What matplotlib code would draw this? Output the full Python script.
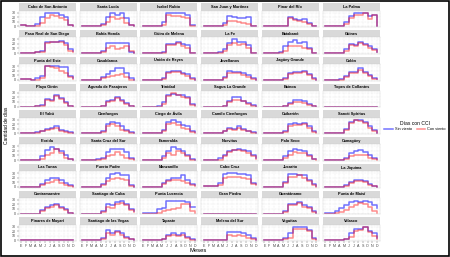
import matplotlib
matplotlib.use('Agg')
import matplotlib.pyplot as plt
from matplotlib.patches import Rectangle
from matplotlib.lines import Line2D

plt.rcParams['font.family'] = ['Liberation Sans', 'DejaVu Sans']

meses = ['E', 'F', 'M', 'A', 'M', 'J', 'J', 'A', 'S', 'O', 'N', 'D']
mes_num = list(range(1, 13))

estaciones = [
    'Cabo de San Antonio', 'Santa Lucía', 'Isabel Rubio', 'San Juan y Martínez', 'Pinar del Río', 'La Palma',
    'Paso Real de San Diego', 'Bahía Honda', 'Güira de Melena', 'La Fe', 'Batabanó', 'Güines',
    'Punta del Este', 'Casablanca', 'Unión de Reyes', 'Jovellanos', 'Jagüey Grande', 'Colón',
    'Playa Girón', 'Aguada de Pasajeros', 'Trinidad', 'Sagua La Grande', 'Bainoa', 'Topes de Collantes',
    'El Yabú', 'Cienfuegos', 'Ciego de Ávila', 'Camilo Cienfuegos', 'Caibarién', 'Sancti Spíritus',
    'Florida', 'Santa Cruz del Sur', 'Esmeralda', 'Nuevitas', 'Palo Seco', 'Camagüey',
    'Las Tunas', 'Puerto Padre', 'Manzanillo', 'Cabo Cruz', 'Jucarito', 'La Jiquima',
    'Contramaestre', 'Santiago de Cuba', 'Punta Lucrecia', 'Gran Piedra', 'Guantánamo', 'Punta de Maisí',
    'Pinares de Mayarí', 'Santiago de las Vegas', 'Tapaste', 'Melena del Sur', 'Veguitas', 'Velasco',
]

# dias con CCI por mes (E..D)
sin_viento = [
    [2, 0, 0, 5, 20, 30, 30, 30, 25, 20, 2, 1],
    [0, 0, 0, 1, 5, 20, 28, 25, 28, 18, 2, 0],
    [0, 0, 0, 1, 10, 30, 29, 28, 28, 25, 3, 2],
    [0, 0, 0, 1, 8, 22, 20, 18, 18, 20, 0, 0],
    [0, 0, 0, 0, 1, 20, 15, 13, 15, 8, 0, 0],
    [0, 0, 0, 1, 10, 22, 28, 28, 30, 22, 25, 1],
    [0, 0, 0, 3, 5, 25, 25, 25, 27, 22, 8, 5],
    [0, 0, 0, 0, 5, 22, 22, 22, 22, 22, 2, 0],
    [0, 0, 0, 0, 3, 20, 20, 25, 20, 18, 0, 0],
    [0, 0, 0, 3, 8, 22, 30, 25, 25, 18, 0, 0],
    [0, 0, 0, 2, 15, 25, 28, 22, 25, 12, 0, 0],
    [0, 0, 0, 0, 8, 20, 18, 25, 20, 15, 8, 3],
    [2, 2, 0, 3, 8, 30, 30, 30, 28, 28, 8, 3],
    [0, 0, 0, 0, 5, 12, 20, 25, 25, 15, 3, 0],
    [0, 0, 0, 0, 3, 18, 20, 20, 15, 12, 3, 0],
    [0, 0, 0, 0, 5, 20, 18, 18, 15, 10, 3, 0],
    [0, 0, 0, 0, 3, 15, 18, 18, 20, 12, 3, 0],
    [0, 0, 0, 2, 8, 18, 18, 25, 18, 10, 3, 2],
    [0, 0, 0, 2, 3, 16, 15, 25, 18, 10, 2, 0],
    [0, 0, 0, 0, 1, 12, 15, 20, 15, 8, 2, 0],
    [0, 0, 0, 2, 10, 25, 28, 25, 25, 20, 5, 3],
    [0, 0, 0, 0, 1, 12, 20, 20, 12, 8, 3, 0],
    [0, 0, 0, 0, 1, 8, 15, 15, 12, 5, 2, 0],
    [0, 0, 0, 0, 0, 0, 0, 0, 0, 0, 0, 0],
    [0, 0, 0, 2, 5, 10, 12, 15, 8, 5, 2, 0],
    [0, 0, 0, 0, 5, 20, 25, 22, 15, 8, 2, 0],
    [0, 0, 0, 0, 8, 25, 28, 25, 18, 15, 5, 2],
    [0, 0, 0, 0, 5, 12, 10, 15, 10, 5, 2, 0],
    [0, 0, 0, 0, 5, 20, 22, 20, 22, 15, 5, 2],
    [0, 0, 0, 0, 10, 25, 28, 28, 25, 15, 8, 0],
    [0, 0, 0, 0, 8, 22, 28, 25, 20, 10, 3, 0],
    [0, 0, 0, 2, 5, 18, 25, 25, 25, 18, 5, 2],
    [0, 0, 0, 0, 8, 20, 28, 25, 20, 12, 3, 0],
    [0, 0, 0, 5, 10, 20, 22, 25, 22, 20, 10, 5],
    [0, 0, 0, 0, 8, 20, 25, 22, 20, 10, 3, 2],
    [0, 0, 0, 0, 5, 15, 20, 22, 18, 12, 5, 2],
    [0, 0, 0, 0, 5, 15, 20, 20, 15, 8, 3, 2],
    [0, 0, 0, 0, 5, 20, 28, 30, 25, 25, 3, 0],
    [0, 0, 0, 0, 8, 15, 20, 20, 25, 15, 5, 3],
    [2, 2, 2, 8, 28, 30, 30, 28, 28, 25, 8, 5],
    [0, 0, 0, 0, 10, 28, 28, 25, 25, 15, 5, 2],
    [0, 0, 0, 0, 3, 10, 15, 15, 12, 5, 2, 0],
    [0, 0, 0, 0, 8, 15, 18, 20, 15, 10, 2, 0],
    [0, 0, 0, 0, 5, 20, 18, 25, 28, 20, 10, 5],
    [2, 2, 2, 10, 12, 28, 28, 28, 27, 25, 15, 14],
    [0, 0, 0, 0, 0, 0, 0, 0, 0, 0, 0, 0],
    [0, 0, 0, 0, 5, 20, 20, 25, 18, 15, 5, 2],
    [2, 2, 5, 12, 18, 25, 28, 25, 28, 25, 18, 12],
    [0, 0, 0, 0, 0, 0, 0, 0, 0, 0, 0, 0],
    [0, 0, 0, 0, 5, 22, 15, 20, 15, 8, 3, 0],
    [0, 0, 0, 0, 3, 12, 15, 12, 15, 8, 2, 0],
    [0, 0, 0, 0, 1, 18, 18, 17, 15, 12, 5, 0],
    [0, 0, 0, 0, 5, 15, 28, 28, 28, 22, 5, 2],
    [0, 0, 0, 0, 3, 15, 25, 25, 30, 20, 15, 5],
]

con_viento = [
    [2, 0, 0, 0, 8, 18, 25, 22, 18, 14, 2, 1],
    [0, 0, 0, 0, 3, 10, 20, 15, 18, 8, 3, 0],
    [0, 0, 0, 0, 2, 25, 22, 22, 20, 18, 1, 0],
    [0, 0, 0, 0, 3, 12, 12, 10, 8, 5, 0, 0],
    [0, 0, 0, 0, 1, 18, 14, 12, 10, 5, 0, 0],
    [0, 0, 0, 0, 5, 18, 25, 25, 28, 15, 25, 1],
    [0, 0, 0, 3, 3, 22, 23, 24, 25, 18, 5, 3],
    [0, 0, 0, 0, 3, 10, 15, 8, 10, 15, 5, 0],
    [0, 0, 0, 0, 1, 18, 18, 22, 15, 12, 0, 0],
    [0, 0, 0, 0, 5, 18, 22, 18, 20, 10, 0, 0],
    [0, 0, 0, 1, 5, 15, 15, 15, 10, 8, 0, 0],
    [0, 0, 0, 0, 5, 18, 15, 22, 18, 12, 6, 2],
    [2, 2, 0, 0, 3, 30, 28, 25, 20, 15, 5, 1],
    [0, 0, 0, 0, 3, 6, 8, 10, 12, 5, 0, 0],
    [0, 0, 0, 0, 1, 15, 18, 18, 12, 8, 2, 0],
    [0, 0, 0, 0, 3, 15, 15, 15, 10, 6, 1, 0],
    [0, 0, 0, 0, 1, 12, 15, 15, 18, 10, 1, 0],
    [0, 0, 0, 0, 5, 15, 15, 22, 15, 8, 2, 1],
    [0, 0, 0, 1, 2, 14, 12, 22, 16, 8, 1, 0],
    [0, 0, 0, 0, 1, 10, 12, 18, 12, 6, 1, 0],
    [0, 0, 0, 0, 5, 22, 30, 25, 20, 18, 3, 2],
    [0, 0, 0, 0, 1, 10, 15, 15, 12, 6, 2, 0],
    [0, 0, 0, 0, 1, 5, 10, 10, 8, 3, 1, 0],
    [0, 0, 0, 0, 0, 0, 0, 0, 0, 0, 0, 0],
    [0, 0, 0, 0, 4, 8, 10, 12, 6, 3, 1, 0],
    [0, 0, 0, 0, 3, 15, 20, 15, 8, 5, 1, 0],
    [0, 0, 0, 0, 5, 20, 22, 18, 12, 10, 2, 0],
    [0, 0, 0, 0, 4, 10, 8, 12, 8, 4, 1, 0],
    [0, 0, 0, 0, 3, 15, 18, 18, 20, 12, 3, 1],
    [0, 0, 0, 0, 8, 22, 28, 27, 22, 12, 5, 0],
    [0, 0, 0, 0, 3, 10, 15, 25, 15, 5, 2, 0],
    [0, 0, 0, 0, 3, 8, 12, 18, 10, 5, 2, 0],
    [0, 0, 0, 0, 5, 15, 12, 20, 15, 8, 1, 0],
    [0, 0, 0, 0, 8, 18, 22, 22, 20, 15, 8, 3],
    [0, 0, 0, 0, 5, 12, 18, 15, 15, 8, 2, 0],
    [0, 0, 0, 0, 3, 8, 10, 12, 10, 5, 2, 0],
    [0, 0, 0, 0, 3, 8, 10, 15, 8, 3, 2, 0],
    [0, 0, 0, 0, 3, 12, 18, 20, 18, 15, 2, 0],
    [0, 0, 0, 0, 5, 12, 15, 15, 12, 8, 3, 1],
    [2, 2, 2, 3, 20, 22, 22, 22, 20, 18, 5, 3],
    [0, 0, 0, 0, 8, 22, 22, 25, 20, 12, 3, 0],
    [0, 0, 0, 0, 1, 8, 12, 12, 10, 3, 1, 0],
    [0, 0, 0, 0, 6, 12, 15, 18, 13, 8, 1, 0],
    [0, 0, 0, 0, 3, 15, 12, 20, 22, 18, 8, 3],
    [0, 0, 0, 2, 5, 8, 10, 12, 20, 20, 5, 2],
    [0, 0, 0, 0, 0, 0, 0, 0, 0, 0, 0, 0],
    [0, 0, 0, 0, 3, 18, 18, 22, 15, 12, 3, 2],
    [0, 0, 2, 3, 8, 15, 18, 22, 20, 15, 5, 2],
    [0, 0, 0, 0, 0, 0, 0, 0, 0, 0, 0, 0],
    [0, 0, 0, 0, 3, 15, 12, 18, 12, 5, 2, 0],
    [0, 0, 0, 0, 2, 10, 12, 10, 12, 5, 1, 0],
    [0, 0, 0, 0, 1, 12, 10, 12, 10, 5, 2, 0],
    [0, 0, 0, 0, 3, 5, 25, 25, 25, 20, 3, 0],
    [0, 0, 0, 0, 2, 8, 20, 22, 28, 18, 10, 2],
]

W, H = 450, 257
fig = plt.figure(figsize=(W / 100, H / 100), dpi=100)

ncol = 6
for k, nombre in enumerate(estaciones):
    i, j = divmod(k, ncol)
    x0 = 18.7 + 60.8 * j
    w = 57.0
    st = 3.3 + 26.75 * i
    sh = 7.4
    ph = 16.5
    # tira del titulo
    sax = fig.add_axes([x0 / W, 1 - (st + sh) / H, w / W, sh / H])
    sax.set_facecolor('#d9d9d9')
    sax.set_xticks([])
    sax.set_yticks([])
    for s in sax.spines.values():
        s.set_visible(False)
    sax.text(0.5, 0.5, nombre, ha='center', va='center', fontsize=2.8,
             fontweight='bold', transform=sax.transAxes)
    # panel
    ax = fig.add_axes([x0 / W, 1 - (st + sh + ph) / H, w / W, ph / H])
    ax.step(mes_num, sin_viento[k], where='post', color='blue', alpha=0.55, lw=1.1)
    ax.step(mes_num, con_viento[k], where='post', color='red', alpha=0.45, lw=1.1)
    ax.set_xlim(0.45, 12.55)
    ax.set_ylim(-2, 34)
    ax.set_yticks([0, 10, 20, 30])
    ax.set_xticks(mes_num)
    ax.grid(color='#e2e2e2', linestyle=(0, (1.5, 1.5)), linewidth=0.35)
    ax.set_axisbelow(True)
    for s in ax.spines.values():
        s.set_color('#cccccc')
        s.set_linestyle((0, (1.5, 1.5)))
        s.set_linewidth(0.35)
    ax.tick_params(length=1.2, width=0.3, color='#555555', pad=0.8,
                   labelsize=2.6, labelcolor='#444444')
    if j == 0:
        ax.set_yticklabels(['0', '10', '20', '30'])
    else:
        ax.tick_params(axis='y', length=0)
        ax.set_yticklabels([])
    if i == 8:
        ax.set_xticklabels(meses)
    else:
        ax.tick_params(axis='x', length=0)
        ax.set_xticklabels([])

fig.text(7 / W, 1 - 125 / H, 'Cantidad de días', rotation=90, ha='center', va='center', fontsize=3.5)
fig.text(198 / W, 1 - 250 / H, 'Meses', ha='center', va='center', fontsize=4.2)

handles = [Line2D([], [], color='blue', alpha=0.55, lw=1.1),
           Line2D([], [], color='red', alpha=0.45, lw=1.1)]
fig.legend(handles, ['Sin viento', 'Con viento'], title='Días con CCI', ncol=2,
           loc='center', bbox_to_anchor=(415 / W, 1 - 126 / H), frameon=False,
           fontsize=2.8, title_fontsize=3.6, handlelength=2.2, columnspacing=1.2,
           handletextpad=0.6)

fig.add_artist(Rectangle((0.002, 0.004), 0.996, 0.994, transform=fig.transFigure,
                         fill=False, edgecolor='black', linewidth=1.2))

plt.savefig('out.png', dpi=100)
plt.close()
